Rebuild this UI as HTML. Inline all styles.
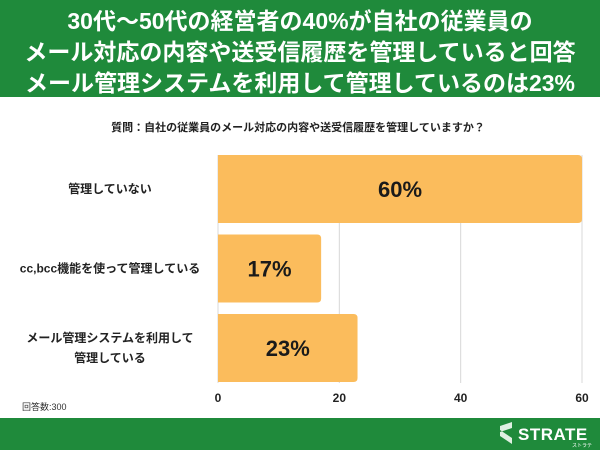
<!DOCTYPE html>
<html><head><meta charset="utf-8"><style>
body{margin:0;width:600px;height:450px;overflow:hidden;background:#fff;font-family:"Liberation Sans","Noto Sans CJK JP",sans-serif;}
</style></head><body>
<svg width="600" height="450" xmlns="http://www.w3.org/2000/svg" font-family="Liberation Sans, Noto Sans CJK JP, sans-serif">
<rect x="0" y="0" width="600" height="97" fill="#1f8a3b"/>
<g fill="#fff" font-size="23" font-weight="bold" text-anchor="middle">
<text x="300" y="29">30代～50代の経営者の40%が自社の従業員の</text>
<text x="300" y="60">メール対応の内容や送受信履歴を管理していると回答</text>
<text x="300" y="91">メール管理システムを利用して管理しているのは23%</text>
</g>
<text x="298" y="131" font-size="11" font-weight="bold" text-anchor="middle" fill="#222">質問：自社の従業員のメール対応の内容や送受信履歴を管理していますか？</text>
<g id="grid"></g><g id="bars"></g><g id="labels"></g><g id="ticks"></g>
<text x="22" y="410" font-size="9" fill="#333">回答数:300</text>
<rect x="0" y="418" width="600" height="32" fill="#1f8a3b"/>
<g>
<path d="M500 426 l12 -4 v6 l-12 4 z M500 436 l12 8 v-6 l-12 -8z M500 446 l12 -4" fill="#dff0e2"/>
<text x="518" y="440" font-size="17" font-weight="bold" fill="#fff" letter-spacing="0.5">STRATE</text>
<text x="572" y="447" font-size="5" fill="#fff">ストラテ</text>
</g>
</svg>
<script>
const categories=["管理していない","cc,bcc機能を使って管理している","メール管理システムを利用して|管理している"];
const values=[60,17,23];
const valueLabels=["60%","17%","23%"];
const ticks=[0,20,40,60];
const ns="http://www.w3.org/2000/svg";
const x0=218,x1=582,xmax=60;
const xs=v=>x0+(x1-x0)*v/xmax;
const bandTop=155,bandStep=79.5,barH=68;
const ys=i=>bandTop+i*bandStep;
function mk(tag,attrs,parent){const e=document.createElementNS(ns,tag);for(const k in attrs)e.setAttribute(k,attrs[k]);document.getElementById(parent).appendChild(e);return e;}
ticks.forEach(t=>{
 const l=mk("line",{x1:xs(t),x2:xs(t),y1:155,y2:383,stroke:"#d8d8d8","stroke-width":1},"grid");
 
 
 const tx=mk("text",{x:xs(t),y:402,"font-size":12,"font-weight":"bold","text-anchor":"middle",fill:"#222"},"ticks");
 tx.textContent=t;
 
 
});
values.forEach((v,i)=>{
 const y=ys(i);
 const r=mk("path",{d:`M${x0} ${y} H${xs(v)-4} Q${xs(v)} ${y} ${xs(v)} ${y+4} V${y+barH-4} Q${xs(v)} ${y+barH} ${xs(v)-4} ${y+barH} H${x0} Z`,fill:"#fbbc5c"},"bars");
 
 
 const vt=mk("text",{x:(x0+xs(v))/2,y:y+barH/2+8,"font-size":22,"font-weight":"bold","text-anchor":"middle",fill:"#1a1a1a"},"bars");
 vt.textContent=valueLabels[i];
 
 
 const lines=categories[i].split("|");
 lines.forEach((s,j)=>{
  const ct=mk("text",{x:110,y:y+barH/2+4+(j-(lines.length-1)/2)*20,"font-size":12,"font-weight":"bold","text-anchor":"middle",fill:"#222"},"labels");
  ct.textContent=s;
  
  
 });
});
</script>
</body></html>
